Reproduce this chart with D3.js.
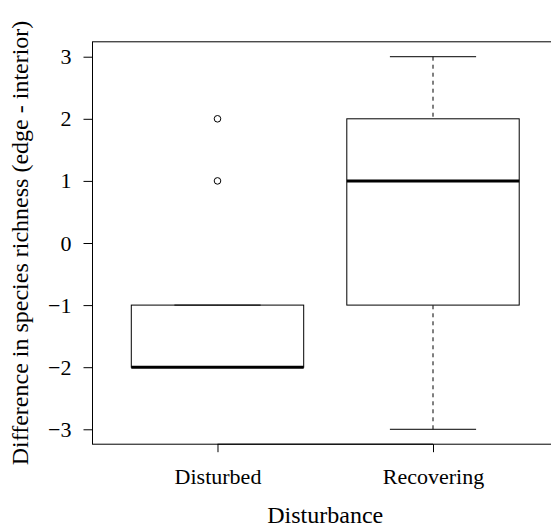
<!DOCTYPE html>
<html>
<head>
<meta charset="utf-8">
<script src="https://cdn.jsdelivr.net/npm/d3@7"></script>
<style>
  body { margin: 0; background: #fff; }
</style>
</head>
<body>
<svg width="551" height="527"></svg>
<script>
// boxplot summary
var categories = ["Disturbed", "Recovering"];
var whiskerLow = [-2, -3];
var q1 = [-2, -1];
var medians = [-2, 1];
var q3 = [-1, 2];
var whiskerHigh = [-1, 3];
var outliers = [[1, 2], []];
var yTicks = [-3, -2, -1, 0, 1, 2, 3];

var svg = d3.select("svg");
var serif = "'Liberation Serif', 'Times New Roman', serif";
var fontSize = 22;
var titleSize = 24;

// plot region (right edge falls just outside the picture)
var plotLeft = 92.5, plotRight = 558, plotTop = 41.8, plotBottom = 444.2;

var x = d3.scaleLinear().domain([0.42, 2.58]).range([plotLeft, plotRight]);
var y = d3.scaleLinear().domain([-3.24, 3.24]).range([plotBottom, plotTop]);

var boxes = categories.map(function(c, i) {
  return {name: c, pos: i + 1, lo: whiskerLow[i], q1: q1[i], med: medians[i],
          q3: q3[i], hi: whiskerHigh[i], out: outliers[i]};
});

var g = svg.append("g");

// whiskers (dashed)
g.selectAll("line.whisk-lo").data(boxes).enter().append("line")
  .attr("x1", function(d) { return x(d.pos); })
  .attr("x2", function(d) { return x(d.pos); })
  .attr("y1", function(d) { return y(d.lo); })
  .attr("y2", function(d) { return y(d.q1); })
  .attr("stroke", "#000").attr("stroke-dasharray", "4,4");
g.selectAll("line.whisk-hi").data(boxes).enter().append("line")
  .attr("x1", function(d) { return x(d.pos); })
  .attr("x2", function(d) { return x(d.pos); })
  .attr("y1", function(d) { return y(d.hi); })
  .attr("y2", function(d) { return y(d.q3); })
  .attr("stroke", "#000").attr("stroke-dasharray", "4,4");

// staples
["lo", "hi"].forEach(function(k) {
  g.selectAll("line.staple-" + k).data(boxes).enter().append("line")
    .attr("x1", function(d) { return x(d.pos - 0.2); })
    .attr("x2", function(d) { return x(d.pos + 0.2); })
    .attr("y1", function(d) { return y(d[k]); })
    .attr("y2", function(d) { return y(d[k]); })
    .attr("stroke", "#000");
});

// boxes
g.selectAll("rect.box").data(boxes).enter().append("rect")
  .attr("x", function(d) { return x(d.pos - 0.4); })
  .attr("width", function(d) { return x(d.pos + 0.4) - x(d.pos - 0.4); })
  .attr("y", function(d) { return y(d.q3); })
  .attr("height", function(d) { return y(d.q1) - y(d.q3); })
  .attr("fill", "none").attr("stroke", "#000");

// medians
g.selectAll("line.median").data(boxes).enter().append("line")
  .attr("x1", function(d) { return x(d.pos - 0.4); })
  .attr("x2", function(d) { return x(d.pos + 0.4); })
  .attr("y1", function(d) { return y(d.med); })
  .attr("y2", function(d) { return y(d.med); })
  .attr("stroke", "#000").attr("stroke-width", 3);

// outliers
boxes.forEach(function(b) {
  g.selectAll(null).data(b.out).enter().append("circle")
    .attr("cx", x(b.pos))
    .attr("cy", function(v) { return y(v); })
    .attr("r", 3.3)
    .attr("fill", "none").attr("stroke", "#000");
});

// frame
svg.append("rect")
  .attr("x", plotLeft).attr("y", plotTop)
  .attr("width", plotRight - plotLeft).attr("height", plotBottom - plotTop)
  .attr("fill", "none").attr("stroke", "#000");

// y axis
var yAxis = svg.append("g")
  .attr("transform", "translate(" + plotLeft + ",0)")
  .call(d3.axisLeft(y).tickValues(yTicks).tickSize(9).tickPadding(12).tickFormat(d3.format("d")));
yAxis.select(".domain").attr("d", "M0," + y(-3) + "V" + y(3));
yAxis.attr("font-family", serif).attr("font-size", fontSize);

// x axis
var xAxis = svg.append("g")
  .attr("transform", "translate(0," + plotBottom + ")")
  .call(d3.axisBottom(x).tickValues([1, 2]).tickSize(8).tickPadding(16)
        .tickFormat(function(d) { return categories[d - 1]; }));
xAxis.select(".domain").attr("d", "M" + x(1) + ",0H" + x(2));
xAxis.attr("font-family", serif).attr("font-size", fontSize);

// axis titles
svg.append("text")
  .attr("x", (plotLeft + plotRight) / 2).attr("y", 523)
  .attr("text-anchor", "middle")
  .attr("font-family", serif).attr("font-size", titleSize)
  .text("Disturbance");

svg.append("text")
  .attr("transform", "translate(28," + (plotTop + plotBottom) / 2 + ") rotate(-90)")
  .attr("text-anchor", "middle")
  .attr("font-family", serif).attr("font-size", titleSize)
  .text("Difference in species richness (edge - interior)");
</script>
</body>
</html>
